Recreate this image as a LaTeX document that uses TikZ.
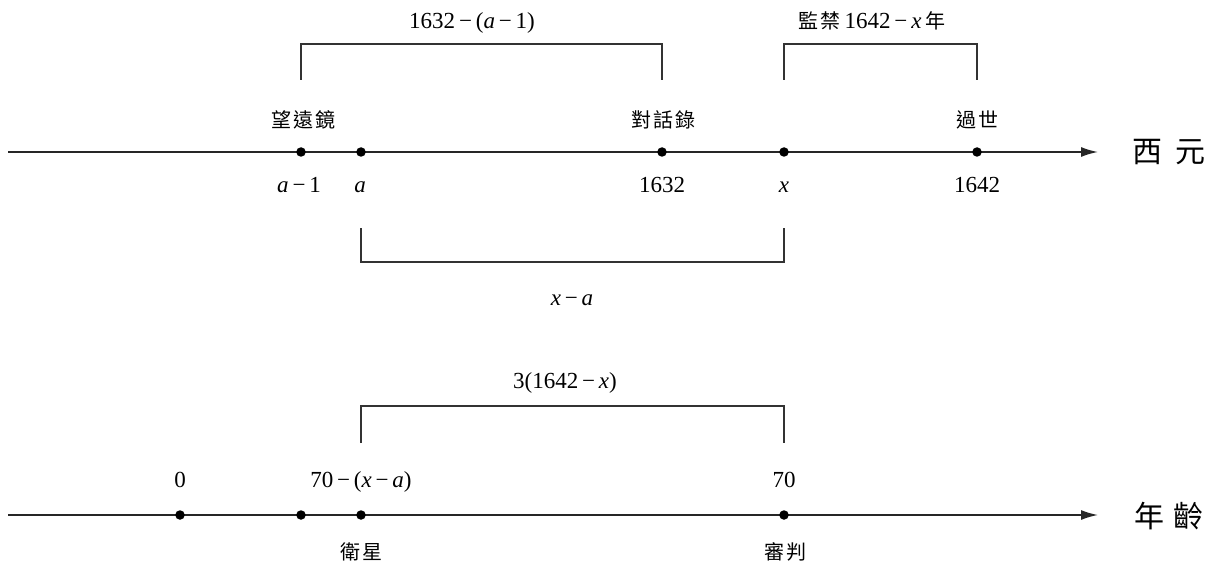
\documentclass[tikz,border=0pt]{standalone}
\usepackage{fontspec}
\setmainfont{Liberation Serif}
\newfontfamily\cjk{Noto Sans CJK TC}
\newfontfamily\cjkls[LetterSpace=10]{Noto Sans CJK TC}
\usetikzlibrary{arrows.meta}
\begin{document}
\begin{tikzpicture}[x=1pt,y=-1pt,
  axisline/.style={line width=1.6pt, draw=black!85, -{Latex[length=17pt,width=10pt]}},
  dotpt/.style={circle, fill=black, inner sep=0pt, minimum size=9.5pt},
  brk/.style={line width=1.5pt, draw=black!80},
  num/.style={font=\fontsize{23}{25}\selectfont, inner sep=0pt, anchor=base},
  zh/.style={font=\cjkls\fontsize{20}{22}\selectfont, inner sep=0pt},
  big/.style={font=\cjk\fontsize{30}{32}\selectfont, inner sep=0pt}]
\useasboundingbox (0,0) rectangle (1217,564);

% ---- top axis ----
\coordinate (tL) at (8,152);
\coordinate (tR) at (1098,152);
\draw[axisline] (tL) -- (tR);
\node[big] (xiyuan) at (1169,152) {西\hspace{13pt}元};

\node[dotpt] (t1) at (301,152) {};
\node[dotpt] (t2) at (361,152) {};
\node[dotpt] (t3) at (662,152) {};
\node[dotpt] (t4) at (784,152) {};
\node[dotpt] (t5) at (977,152) {};

\node[zh] (lw) at (303,120) {望遠鏡};
\node[zh] (ld) at (663,120) {對話錄};
\node[zh] (lg) at (977,120) {過世};

\node[num] (n1) at (299,193) {\textit{a}\,−\,1};
\node[num] (n2) at (360,193) {\textit{a}};
\node[num] (n3) at (662,193) {1632};
\node[num] (n4) at (784,193) {\textit{x}};
\node[num] (n5) at (977,193) {1642};

% brackets above top axis
\coordinate (b1a) at (301,80);
\coordinate (b1b) at (662,80);
\draw[brk] (b1a) -- (301,44) -- (662,44) -- (b1b);
\node[num] (bl1) at (472,29) {1632\,−\,(\textit{a}\,−\,1)};

\coordinate (b2a) at (784,80);
\coordinate (b2b) at (977,80);
\draw[brk] (b2a) -- (784,44) -- (977,44) -- (b2b);
\node[num] (bl2) at (872,29) {{\cjkls\fontsize{20}{22}\selectfont 監禁}\hspace{4pt}1642\,−\,\textit{x}\,{\cjk\fontsize{20}{22}\selectfont 年}};

% bracket below top axis
\coordinate (b3a) at (361,228);
\coordinate (b3b) at (784,228);
\draw[brk] (b3a) -- (361,262) -- (784,262) -- (b3b);
\node[num] (bl3) at (572,305) {\textit{x}\,−\,\textit{a}};

% ---- bottom axis ----
\coordinate (bL) at (8,515);
\coordinate (bR) at (1098,515);
\draw[axisline] (bL) -- (bR);
\node[big] (nianling) at (1169,516) {年\hspace{9pt}齡};

\node[dotpt] (u1) at (180,515) {};
\node[dotpt] (u2) at (301,515) {};
\node[dotpt] (u3) at (361,515) {};
\node[dotpt] (u4) at (784,515) {};

\node[num] (m1) at (180,487) {0};
\node[num] (m2) at (361,487) {70\,−\,(\textit{x}\,−\,\textit{a})};
\node[num] (m3) at (784,487) {70};

\node[zh] (lwx) at (361,552) {衛星};
\node[zh] (lsp) at (785,552) {審判};

\coordinate (b4a) at (361,443);
\coordinate (b4b) at (784,443);
\draw[brk] (b4a) -- (361,406) -- (784,406) -- (b4b);
\node[num] (bl4) at (565,388) {3(1642\,−\,\textit{x})};
\end{tikzpicture}
\end{document}
